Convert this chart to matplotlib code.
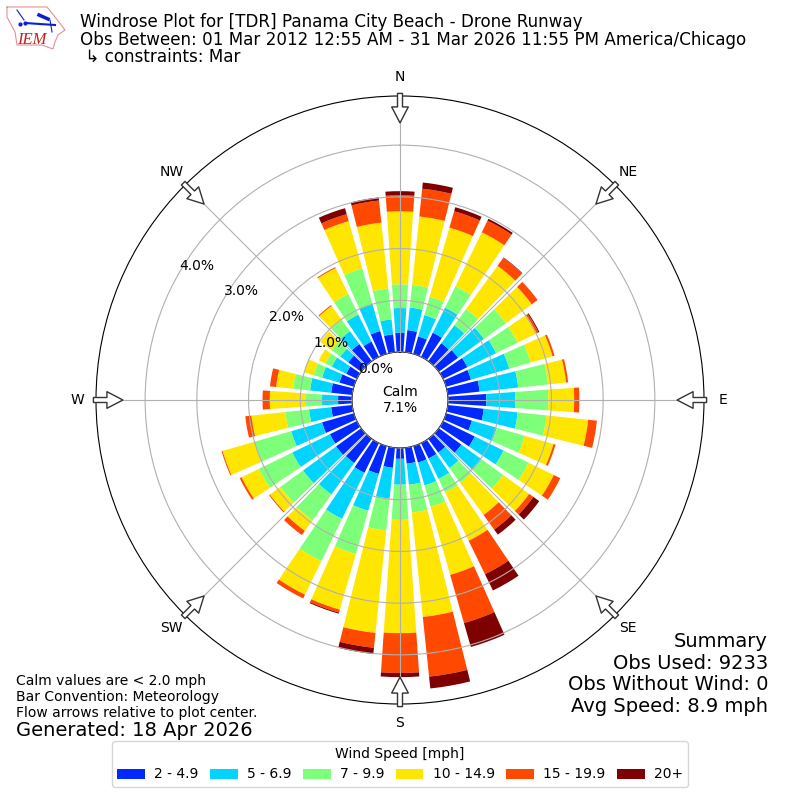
import numpy as np
import matplotlib
matplotlib.use('Agg')
import matplotlib.pyplot as plt

directions = list(range(10, 361, 10))

speed_2_5 = [.43, .35, .52, .43, .46, .52, .50, .62, .74, .70, .52, .68,
             .54, .33, .33, .33, .31, .21, .39, .56, .64, .58, .60, .58,
             .64, .41, .27, .41, .29, .23, .31, .41, .33, .46, .35, .37]
speed_5_7 = [.44, .43, .54, .43, .62, .62, .77, .75, .56, .66, .50, .62,
             .48, .37, .44, .46, .41, .50, .60, .74, .99, .75, .79, .81,
             .62, .43, .31, .41, .35, .31, .19, .31, .58, .54, .29, .48]
speed_7_10 = [.44, .37, .46, .39, .52, .46, .43, .58, .64, .56, .56, .54,
              .52, .35, .29, .43, .54, .68, .62, .87, .91, .62, .54, .72,
              .74, .46, .31, .33, .17, .14, .21, .27, .44, .72, .60, .46]
speed_10_15 = [1.33, 1.39, 1.16, 1.03, .62, .41, .44, .35, .50, .81, .58, .54,
               .62, .77, 1.04, 1.37, 2.03, 2.19, 1.99, 1.12, .72, .25, .25, .37,
               .64, .66, .70, .33, .19, .14, .27, .33, .56, .95, 1.28, 1.41]
speed_15_20 = [.54, .33, .25, .19, .14, .04, .04, .04, .10, .17, .04, .14,
               .10, .35, .72, .97, 1.16, .77, .29, .06, .08, .10, .02, .04,
               .02, .12, .14, .12, 0, 0, 0, .02, .02, .14, .43, .31]
speed_20 = [.12, .08, .04, .01, 0, .02, 0, 0, 0, 0, 0, 0,
            .14, .12, .35, .48, .23, .08, .12, .02, 0, 0, 0, 0,
            0, 0, 0, 0, 0, 0, 0, 0, 0, .12, .06, .08]

series = [speed_2_5, speed_5_7, speed_7_10, speed_10_15, speed_15_20, speed_20]
speed_labels = ['2 - 4.9', '5 - 6.9', '7 - 9.9', '10 - 14.9', '15 - 19.9', '20+']
colors = ['#0028ff', '#00d4ff', '#7dff7a', '#ffe600', '#ff4800', '#7f0000']

compass_angles = [0, 45, 90, 135, 180, 225, 270, 315]
compass_labels = ['N', 'NE', 'E', 'SE', 'S', 'SW', 'W', 'NW']
ring_values = [0, 1, 2, 3, 4]
ring_labels = ['0.0%', '1.0%', '2.0%', '3.0%', '4.0%']

# outline of the state in the logo, logo pixels
logo_x = [7, 47, 55, 65, 58, 55, 53, 42, 17, 15, 7, 7]
logo_y = [7, 7, 17, 30, 35, 42, 49, 45, 45, 32, 17, 7]


def draw_logo(fig):
    logo = fig.add_axes([0, 0.93, 0.0875, 0.07])
    logo.set_xlim(0, 70)
    logo.set_ylim(56, 0)
    logo.axis('off')
    logo.plot(logo_x, logo_y, color='#e89090', lw=0.8)
    logo.plot([25, 55], [23, 25], color='#0a1fd0', lw=1.5)
    logo.plot([25, 20], [23, 24], 'o', color='#0a1fd0', ms=2)
    logo.plot([17, 24], [10, 20], color='#0a1fd0', lw=0.8)
    logo.plot([39, 48], [15, 19], color='#0a1fd0', lw=2.5)
    logo.plot([50, 52], [20, 32], color='#0a1fd0', lw=0.8)
    logo.text(17, 44, 'IEM', color='#c82020', fontsize=12, style='italic',
              family='Liberation Serif')


def main():
    fig = plt.figure(figsize=(8, 8), dpi=100)
    ax = fig.add_axes([0.12, 0.12, 0.76, 0.76], projection='polar')
    ax.set_theta_zero_location('N')
    ax.set_theta_direction(-1)
    ax.set_rorigin(-0.928)
    ax.set_ylim(0, 4.95)
    ax.set_axisbelow(False)

    theta = np.radians(directions)
    bottom = np.zeros(len(directions))
    for values, label, color in zip(series, speed_labels, colors):
        ax.bar(theta, values, width=np.radians(8), bottom=bottom, color=color,
               label=label, linewidth=0)
        bottom += np.array(values)

    ax.set_thetagrids(compass_angles, compass_labels, fontsize=10)
    ax.tick_params(axis='x', pad=3)
    ax.set_rgrids(ring_values, ring_labels, angle=300, fontsize=10)

    for angle in compass_angles:
        ax.annotate('', xy=(np.radians(angle), 4.43),
                    xytext=(np.radians(angle), 5.0),
                    arrowprops=dict(arrowstyle='simple,head_length=11.5,head_width=12,tail_width=3.6',
                                    mutation_scale=1, fc='white', ec='#333333',
                                    lw=1, shrinkA=0, shrinkB=0),
                    annotation_clip=False)

    fig.text(0.5, 0.5, 'Calm\n7.1%', ha='center', va='center', fontsize=10)

    fig.text(0.1, 0.984,
             'Windrose Plot for [TDR] Panama City Beach - Drone Runway\n'
             'Obs Between: 01 Mar 2012 12:55 AM - 31 Mar 2026 11:55 PM America/Chicago\n'
             ' \u21b3 constraints: Mar',
             ha='left', va='top', fontsize=12.02, linespacing=0.98)

    fig.text(0.02, 0.0995,
             'Calm values are < 2.0 mph\nBar Convention: Meteorology\n'
             'Flow arrows relative to plot center.',
             ha='left', va='bottom', fontsize=10, linespacing=1.2)
    fig.text(0.02, 0.0745, 'Generated: 18 Apr 2026', ha='left', va='bottom', fontsize=14)
    fig.text(0.96, 0.105, 'Summary\nObs Used: 9233\nObs Without Wind: 0\nAvg Speed: 8.9 mph',
             ha='right', va='bottom', fontsize=14, linespacing=1.18)

    fig.legend(loc='lower center', bbox_to_anchor=(0.5, 0.0075), ncol=6, fontsize=10,
               title='Wind Speed [mph]', title_fontsize=10,
               columnspacing=0.83, handletextpad=0.65)

    draw_logo(fig)
    fig.savefig('out.png', dpi=100)


if __name__ == '__main__':
    main()
